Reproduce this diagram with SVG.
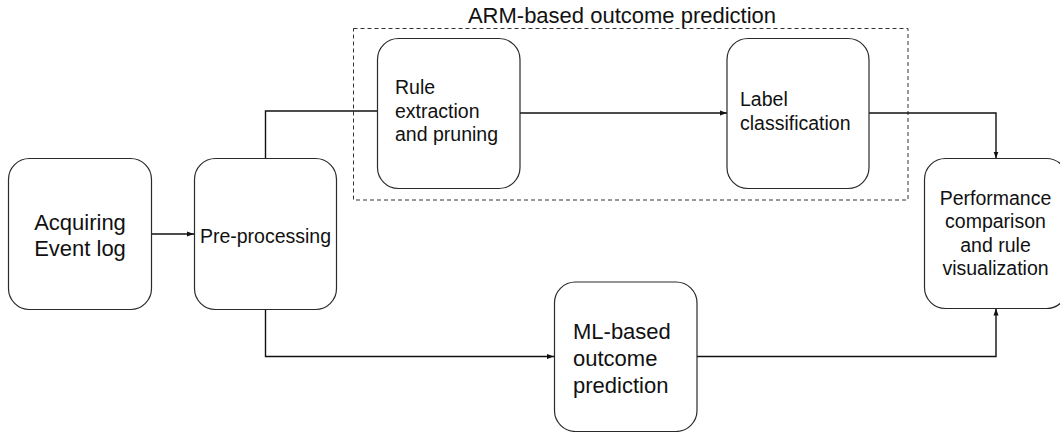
<svg xmlns="http://www.w3.org/2000/svg" width="1060" height="432" viewBox="0 0 1060 432">
  <style>
    .box { fill: #ffffff; stroke: #2a2a2a; stroke-width: 1.2; }
    .group { fill: none; stroke: #333333; stroke-width: 1; stroke-dasharray: 4 3; }
    .wire { fill: none; stroke: #111111; stroke-width: 1.4; }
    .lg { font-family: "Liberation Sans", Arial, sans-serif; font-size: 22px; fill: #111111; }
    .md { font-family: "Liberation Sans", Arial, sans-serif; font-size: 19.5px; fill: #111111; }
    .c { text-anchor: middle; }
  </style>
  <defs>
    <marker id="arrow" viewBox="0 0 7 6" refX="7" refY="3" markerWidth="7" markerHeight="6" markerUnits="userSpaceOnUse" orient="auto">
      <path d="M0,0.5 L7,3 L0,5.5 Z" fill="#111111"/>
    </marker>
  </defs>

  <rect width="1060" height="432" fill="#ffffff"/>

  <!-- dashed frame around the rule-mining stages -->
  <g id="arm-group">
    <rect class="group" x="353.5" y="28.5" width="554.5" height="171.5"/>
    <text class="lg c" x="622" y="22.5">ARM-based outcome prediction</text>
  </g>

  <g id="connectors">
    <line class="wire" x1="152" y1="234" x2="194" y2="234" marker-end="url(#arrow)"/>
    <polyline class="wire" points="265.5,158 265.5,111 377,111"/>
    <line class="wire" x1="520" y1="113" x2="727" y2="113" marker-end="url(#arrow)"/>
    <polyline class="wire" points="869,113 996,113 996,158.5" marker-end="url(#arrow)"/>
    <polyline class="wire" points="265.5,309 265.5,356.5 554,356.5" marker-end="url(#arrow)"/>
    <polyline class="wire" points="697,356.5 996,356.5 996,308.5" marker-end="url(#arrow)"/>
  </g>

  <g id="acquiring">
    <rect class="box" x="8.5" y="158.5" width="143" height="151" rx="21"/>
    <text class="lg c" x="80" y="229.5">Acquiring</text>
    <text class="lg c" x="80" y="256">Event log</text>
  </g>

  <g id="preprocessing">
    <rect class="box" x="194.5" y="158.5" width="142" height="151" rx="21"/>
    <text class="md c" x="265.5" y="243">Pre-processing</text>
  </g>

  <g id="rule-extraction">
    <rect class="box" x="377.5" y="38.5" width="142.5" height="150" rx="21"/>
    <text class="md" x="395" y="94">Rule</text>
    <text class="md" x="395" y="117.5">extraction</text>
    <text class="md" x="395" y="141">and pruning</text>
  </g>

  <g id="label-classification">
    <rect class="box" x="727" y="38.5" width="142" height="150" rx="21"/>
    <text class="md" x="740" y="106">Label</text>
    <text class="md" x="740" y="130">classification</text>
  </g>

  <g id="performance">
    <rect class="box" x="924.5" y="158.5" width="143" height="150" rx="21"/>
    <text class="md c" x="995.5" y="204.5">Performance</text>
    <text class="md c" x="995.5" y="228">comparison</text>
    <text class="md c" x="995.5" y="251.5">and rule</text>
    <text class="md c" x="995.5" y="275">visualization</text>
  </g>

  <g id="ml-prediction">
    <rect class="box" x="554.5" y="282" width="142.5" height="149.5" rx="21"/>
    <text class="lg" x="573" y="339">ML-based</text>
    <text class="lg" x="573" y="366">outcome</text>
    <text class="lg" x="573" y="393">prediction</text>
  </g>
</svg>
